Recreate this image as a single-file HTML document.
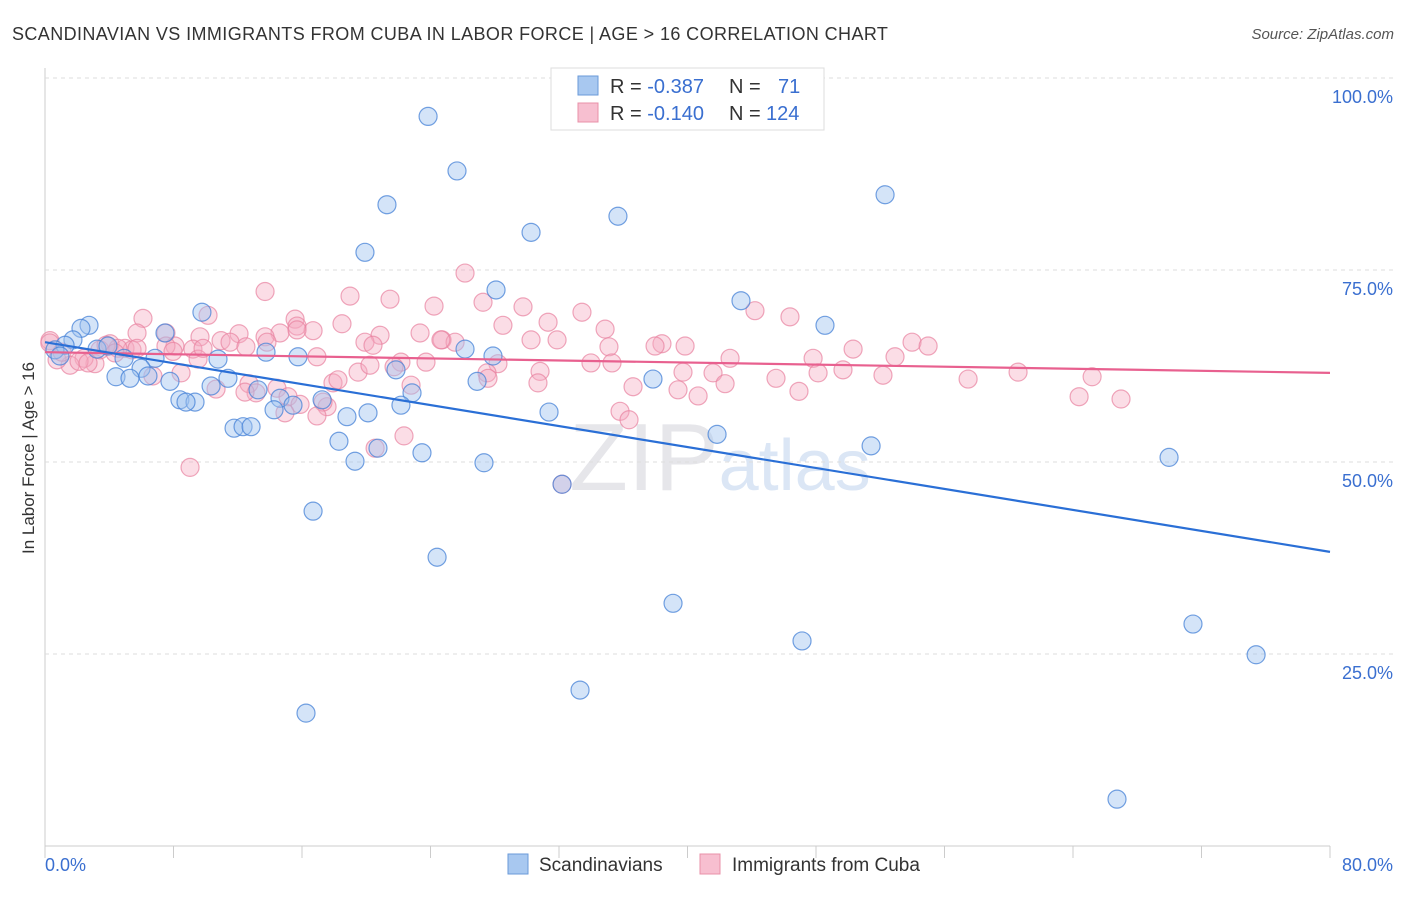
<!DOCTYPE html>
<html><head><meta charset="utf-8"><style>
body{margin:0;background:#fff;font-family:"Liberation Sans",sans-serif}
svg text{font-family:"Liberation Sans",sans-serif}
</style></head><body>
<svg id="c" width="1406" height="892">
<text x="12" y="40" font-size="18" fill="#333" letter-spacing="0.4">SCANDINAVIAN VS IMMIGRANTS FROM CUBA IN LABOR FORCE | AGE &gt; 16 CORRELATION CHART</text>
<text x="1394" y="39" font-size="15" fill="#555" text-anchor="end" font-style="italic">Source: ZipAtlas.com</text>
<text x="34" y="458" font-size="17" fill="#333" text-anchor="middle" transform="rotate(-90 34 458)">In Labor Force | Age &gt; 16</text>
<text x="720" y="490" font-size="96" fill="#e6e6ea" text-anchor="middle" font-family="Liberation Serif">ZIP<tspan fill="#dbe6f5" font-family="Liberation Sans" font-size="72">atlas</tspan></text>
<g id="grid"></g><g id="pts"></g><g id="lines"></g>
<g>
<rect x="551" y="68" width="273" height="62" fill="#fff" stroke="#ddd"/>
<rect x="578" y="76" width="20" height="19" fill="#a8c8f0" stroke="#6a9ad8"/>
<rect x="578" y="103" width="20" height="19" fill="#f7bfd0" stroke="#e890a8"/>
<text x="610" y="93" font-size="20" fill="#333">R = <tspan fill="#3a6fd0">-0.387</tspan><tspan x="729">N = </tspan><tspan x="778" fill="#3a6fd0">71</tspan></text>
<text x="610" y="120" font-size="20" fill="#333">R = <tspan fill="#3a6fd0">-0.140</tspan><tspan x="729">N = </tspan><tspan x="766" fill="#3a6fd0">124</tspan></text>
</g>
<g>
<rect x="508" y="854" width="20" height="20" fill="#a8c8f0" stroke="#6a9ad8"/>
<text x="539" y="871" font-size="19" fill="#333">Scandinavians</text>
<rect x="700" y="854" width="20" height="20" fill="#f7bfd0" stroke="#e890a8"/>
<text x="732" y="871" font-size="19" fill="#333">Immigrants from Cuba</text>
</g>
</svg>
<script>
const yTicks=[25,50,75,100];
const yTickLabels=["25.0%","50.0%","75.0%","100.0%"];
const xTickLabels=["0.0%","80.0%"];
const blueX=[23.85,25.65,21.29,35.67,30.26,52.3,19.92,28.08,43.33,9.77,48.56,2.74,2.24,1.74,1.25,0.62,3.24,3.92,4.92,6.85,7.47,10.77,13.76,15.75,26.15,27.89,5.98,4.42,5.29,6.41,7.78,11.39,10.34,13.26,21.85,26.9,37.85,22.85,8.4,9.34,8.78,14.63,15.44,17.25,22.16,14.26,18.8,20.11,31.38,11.77,12.33,12.83,18.3,20.73,23.47,19.3,27.33,41.84,51.43,32.19,69.98,16.69,24.41,39.1,47.13,33.31,71.47,75.4,16.25,66.74,0.93];
const blueY=[95.0,87.9,83.5,82.0,79.9,84.8,77.3,72.4,71.0,69.5,67.8,67.8,67.4,65.9,65.2,64.6,64.7,65.1,63.5,63.5,66.8,63.4,64.3,63.7,64.7,63.8,62.2,61.1,60.9,61.2,60.5,60.9,59.9,59.4,62.0,60.5,60.8,59.0,58.1,57.8,57.8,58.3,57.4,58.1,57.4,56.8,55.9,56.4,56.5,54.4,54.6,54.6,52.7,51.8,51.2,50.1,49.9,53.6,52.1,47.1,50.6,43.6,37.6,31.6,26.7,20.3,28.9,24.9,17.3,6.1,63.8];
const pinkX=[26.15,13.70,18.99,21.48,24.22,27.27,29.76,44.2,46.38,33.43,6.10,10.15,15.57,18.49,28.51,31.32,34.87,15.69,14.63,12.08,7.53,5.73,9.65,10.96,13.70,16.69,20.86,23.35,24.72,25.53,30.26,31.88,38.41,39.85,37.98,35.11,53.98,54.98,52.92,50.31,4.05,4.98,8.09,9.21,11.52,19.92,20.42,22.16,23.72,16.93,19.49,21.73,28.2,30.82,33.99,42.65,47.82,49.68,52.17,57.47,60.58,65.19,39.72,41.59,45.51,48.13,46.94,42.34,36.61,39.41,40.66,35.3,27.52,27.58,30.69,17.93,18.24,14.44,12.7,10.65,13.14,8.47,6.72,3.11,2.43,1.56,0.75,0.31,1.06,3.42,5.42,4.54,3.80,4.36,17.56,17.31,12.45,15.13,22.79,15.88,14.94,35.8,36.36,16.93,22.35,20.55,9.03,32.19,64.38,66.99,12.51,9.53,7.53,9.84,20.23,15.69,13.82,7.97,24.65,5.73,2.12,2.68,0.3];
const pinkY=[74.6,72.2,71.6,71.2,70.3,70.8,70.2,69.7,68.9,69.5,68.7,69.1,68.6,68.0,67.8,68.2,67.3,67.7,66.8,66.7,66.8,66.8,66.3,65.8,66.3,67.1,66.5,66.8,65.9,65.6,65.9,65.9,65.4,65.1,65.1,65.0,65.6,65.1,63.7,64.7,65.4,64.8,65.1,64.7,65.6,65.6,65.2,63.0,63.0,63.7,61.7,62.4,62.8,61.8,62.9,63.5,63.5,62.0,61.3,60.8,61.7,61.1,61.7,61.6,60.9,61.6,59.2,60.2,59.8,59.4,58.6,62.9,61.6,60.9,60.3,60.3,60.7,59.6,60.2,59.5,59.0,61.6,61.2,62.8,63.5,62.6,63.3,65.8,64.3,64.6,64.6,64.8,65.2,64.2,57.2,57.8,59.1,58.5,60.0,57.5,56.4,56.6,55.5,56.0,53.4,51.8,49.3,47.1,58.5,58.2,65.0,63.4,65.1,64.8,62.6,67.2,65.6,64.4,65.9,64.8,63.1,62.9,65.5];
const blueTrend=[65.6,38.3];
const pinkTrend=[64.3,61.6];
const X=v=>45+v/80*1285, Y=v=>846-v*7.68;
const NS="http://www.w3.org/2000/svg";
function mk(p,t,a){const e=document.createElementNS(NS,t);for(const k in a)e.setAttribute(k,a[k]);p.appendChild(e);return e;}
const g=document.getElementById('grid');
let e;
e=mk(g,'line',{x1:45,y1:68,x2:45,y2:846,stroke:'#ccc'});


e=mk(g,'line',{x1:45,y1:846,x2:1330,y2:846,stroke:'#ccc'});


for(let i=0;i<=10;i++){e=mk(g,'line',{x1:X(i*8),y1:846,x2:X(i*8),y2:858,stroke:'#ccc'});

}
yTicks.forEach((t,i)=>{e=mk(g,'line',{x1:45,y1:Y(t),x2:1394,y2:Y(t),stroke:'#ddd','stroke-dasharray':'4,4'});


e=mk(g,'text',{x:1393,y:Y(t)+25,'font-size':18,fill:'#3a6fd0','text-anchor':'end'});e.textContent=yTickLabels[i];

});
e=mk(g,'text',{x:45,y:871,'font-size':18,fill:'#3a6fd0'});e.textContent=xTickLabels[0];


e=mk(g,'text',{x:1393,y:871,'font-size':18,fill:'#3a6fd0','text-anchor':'end'});e.textContent=xTickLabels[1];


const p=document.getElementById('pts');
pinkX.forEach((x,i)=>{e=mk(p,'circle',{cx:X(x),cy:Y(pinkY[i]),r:9,fill:'rgba(244,170,192,0.4)',stroke:'rgba(232,130,160,0.7)','stroke-width':1.2});

});
blueX.forEach((x,i)=>{e=mk(p,'circle',{cx:X(x),cy:Y(blueY[i]),r:9,fill:'rgba(160,195,240,0.45)',stroke:'rgba(70,130,215,0.75)','stroke-width':1.2});

});
const l=document.getElementById('lines');
e=mk(l,'line',{x1:X(0),y1:Y(pinkTrend[0]),x2:X(80),y2:Y(pinkTrend[1]),stroke:'#e8608f','stroke-width':2.2});


e=mk(l,'line',{x1:X(0),y1:Y(blueTrend[0]),x2:X(80),y2:Y(blueTrend[1]),stroke:'#2a6fd6','stroke-width':2.2});


</script>
</body></html>
